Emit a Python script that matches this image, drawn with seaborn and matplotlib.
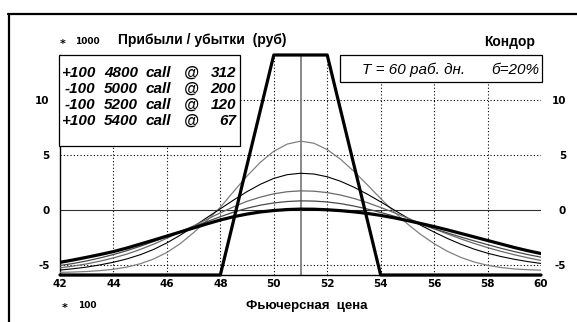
import matplotlib
matplotlib.use("Agg")
import matplotlib.pyplot as plt
import seaborn as sns
import pandas as pd
from matplotlib.patches import Rectangle
from matplotlib.lines import Line2D

# ---------------- data ----------------
price = [42, 42.5, 43, 43.5, 44, 44.5, 45, 45.5, 46, 46.5, 47, 47.5, 48, 48.5,
         49, 49.5, 50, 50.5, 51, 51.5, 52, 52.5, 53, 53.5, 54, 54.5, 55, 55.5,
         56, 56.5, 57, 57.5, 58, 58.5, 59, 59.5, 60]

pnl_12d = [-5.66, -5.63, -5.58, -5.50, -5.38, -5.18, -4.88, -4.45, -3.85, -3.05,
           -2.05, -0.95, 0.25, 1.70, 3.10, 4.35, 5.35, 6.00, 6.27, 6.08, 5.50,
           4.62, 3.52, 2.30, 1.05, -0.15, -1.25, -2.22, -3.05, -3.75, -4.30,
           -4.72, -5.02, -5.22, -5.35, -5.42, -5.46]
pnl_24d = [-5.45, -5.33, -5.18, -4.98, -4.74, -4.44, -4.06, -3.58, -2.98, -2.28,
           -1.50, -0.68, 0.12, 0.92, 1.68, 2.35, 2.88, 3.22, 3.35, 3.28, 3.03,
           2.62, 2.08, 1.45, 0.75, 0.02, -0.70, -1.38, -2.00, -2.58, -3.10,
           -3.55, -3.92, -4.22, -4.47, -4.68, -4.85]
pnl_36d = [-5.25, -5.09, -4.89, -4.64, -4.35, -4.00, -3.58, -3.10, -2.56, -2.00,
           -1.43, -0.84, -0.25, 0.30, 0.80, 1.18, 1.48, 1.67, 1.75, 1.72, 1.59,
           1.37, 1.06, 0.68, 0.24, -0.23, -0.72, -1.21, -1.70, -2.17, -2.62,
           -3.03, -3.41, -3.75, -4.06, -4.33, -4.58]
pnl_48d = [-5.04, -4.85, -4.62, -4.35, -4.04, -3.69, -3.29, -2.86, -2.41, -1.95,
           -1.50, -1.05, -0.60, -0.18, 0.17, 0.45, 0.65, 0.78, 0.84, 0.82, 0.74,
           0.59, 0.37, 0.10, -0.21, -0.55, -0.92, -1.30, -1.69, -2.07, -2.45,
           -2.80, -3.14, -3.47, -3.77, -4.04, -4.28]
pnl_60d = [-4.75, -4.53, -4.29, -4.04, -3.77, -3.45, -3.09, -2.73, -2.36, -1.99,
           -1.62, -1.25, -0.90, -0.60, -0.36, -0.17, -0.04, 0.05, 0.09, 0.08, 0.03,
           -0.05, -0.16, -0.30, -0.48, -0.70, -0.95, -1.22, -1.50, -1.80, -2.12,
           -2.44, -2.76, -3.08, -3.40, -3.69, -3.95]

expiry_x = [42, 48, 50, 52, 54, 60]
expiry_pnl = [-5.9, -5.9, 14.1, 14.1, -5.9, -5.9]

current_price = 51
x_ticks = [42, 44, 46, 48, 50, 52, 54, 56, 58, 60]
y_ticks = [-5, 0, 5, 10]
x_grid = [44, 46, 48, 50, 52, 54, 56, 58]
y_grid = [-5, 5, 10]

leg_qty = ["+100", "-100", "-100", "+100"]
leg_strike = ["4800", "5000", "5200", "5400"]
leg_type = ["call", "call", "call", "call"]
leg_price = ["312", "200", "120", "67"]

# ---------------- style ----------------
sns.set_theme(style="white")
plt.rcParams['font.family'] = ['DejaVu Sans']
plt.rcParams['axes.unicode_minus'] = False
plt.rcParams['text.color'] = 'black'
plt.rcParams['xtick.color'] = 'black'
plt.rcParams['ytick.color'] = 'black'
plt.rcParams['axes.labelcolor'] = 'black'

W, H = 577, 322
fig = plt.figure(figsize=(W / 100, H / 100), dpi=100)
fig.patch.set_facecolor('white')

def fx(px):
    return px / W

def fy(py):
    return 1 - py / H

ax = fig.add_axes([fx(60), fy(275), 481 / W, 220 / H])
ax.set_facecolor('white')

# grid
for gx in x_grid:
    ax.axvline(gx, color='black', lw=0.8, ls=(0, (1, 2)), zorder=1)
for gy in y_grid:
    ax.axhline(gy, color='black', lw=0.8, ls=(0, (1, 2)), zorder=1)
ax.axhline(0, color='#303030', lw=0.8, zorder=1.5)
ax.axvline(current_price, color='#808080', lw=1.3, zorder=1.5)

# curves
df = pd.DataFrame({"price": price, "12": pnl_12d, "24": pnl_24d,
                   "36": pnl_36d, "48": pnl_48d, "60": pnl_60d})
styles = {"12": ('#808080', 0.9), "24": ('#000000', 0.8), "36": ('#6a6a6a', 0.9),
          "48": ('#4a4a4a', 0.9), "60": ('#000000', 2.3)}
for key, (col, lw) in styles.items():
    sns.lineplot(data=df, x="price", y=key, ax=ax, color=col, lw=lw,
                 estimator=None, sort=False, zorder=3)

exp_df = pd.DataFrame({"x": expiry_x, "y": expiry_pnl})
sns.lineplot(data=exp_df, x="x", y="y", ax=ax, color='black', lw=2.3,
             estimator=None, sort=False, zorder=4, clip_on=False)

ax.set_xlim(42, 60)
ax.set_ylim(-5.9, 14.1)
ax.set_xlabel("")
ax.set_ylabel("")
ax.set_xticks(x_ticks)
ax.set_yticks(y_ticks)
ax.set_xticklabels([str(v) for v in x_ticks])
ax.set_yticklabels([str(v) for v in y_ticks])
ax.tick_params(axis='x', length=0, pad=3, labelsize=7.5, labelcolor='black')
ax.tick_params(axis='y', length=0, pad=7.5, labelsize=7.5, labelcolor='black')
for lab in ax.get_xticklabels() + ax.get_yticklabels():
    lab.set_fontweight('bold')
for s in ['top', 'right']:
    ax.spines[s].set_visible(False)
for s in ['left', 'bottom']:
    ax.spines[s].set_visible(True)
    ax.spines[s].set_color('black')
    ax.spines[s].set_linewidth(1.0)

ax2 = ax.twinx()
ax2.set_ylim(-5.9, 14.1)
ax2.set_yticks(y_ticks)
ax2.set_yticklabels([str(v) for v in y_ticks])
ax2.tick_params(axis='y', length=0, pad=18, labelsize=7.5, labelcolor='black')
for lab in ax2.get_yticklabels():
    lab.set_fontweight('bold')
    lab.set_ha('right')
for s in ax2.spines.values():
    s.set_visible(False)
ax2.grid(False)

# outer frame
fig.add_artist(Line2D([fx(8), 1.0], [fy(14), fy(14)], color='black', lw=1.6,
                      transform=fig.transFigure))
fig.add_artist(Line2D([fx(9), fx(9)], [fy(14), 0.0], color='black', lw=1.6,
                      transform=fig.transFigure))

# boxes
fig.add_artist(Rectangle((fx(59), fy(146)), 181 / W, 91 / H, transform=fig.transFigure,
                         facecolor='white', edgecolor='black', lw=0.9, zorder=5))
fig.add_artist(Rectangle((fx(340), fy(82)), 202 / W, 27 / H, transform=fig.transFigure,
                         facecolor='white', edgecolor='black', lw=0.9, zorder=5))

ARIAL = ['Liberation Sans', 'DejaVu Sans']
bi = dict(fontsize=11, style='italic', fontweight='bold', color='black', zorder=6,
          va='baseline', family=ARIAL)
for i in range(4):
    yb = fy(77 + i * 16)
    fig.text(fx(95), yb, leg_qty[i], ha='right', **bi)
    fig.text(fx(138), yb, leg_strike[i], ha='right', **bi)
    fig.text(fx(146), yb, leg_type[i], ha='left', **bi)
    fig.text(fx(184), yb, "@", ha='left', **bi)
    fig.text(fx(236), yb, leg_price[i], ha='right', **bi)

it = dict(fontsize=11, style='italic', color='black', zorder=6, va='baseline',
          family=ARIAL)
fig.text(fx(362), fy(74), "T = 60 раб. дн.", ha='left', **it)
fig.text(fx(539), fy(74), "б=20%", ha='right', **it)

# header / footer texts
fig.text(fx(60), fy(47), "*", fontsize=8, fontweight='bold', ha='left', va='baseline')
fig.text(fx(75), fy(44), "1000", fontsize=6.5, fontweight='bold', ha='left', va='baseline')
fig.text(fx(118), fy(44), "Прибыли / убытки  (руб)", fontsize=10, fontweight='bold',
         ha='left', va='baseline', family=ARIAL)
fig.text(fx(535), fy(46), "Кондор", fontsize=10, fontweight='bold', ha='right',
         va='baseline', family=ARIAL)
fig.text(fx(62), fy(311), "*", fontsize=8, fontweight='bold', ha='left', va='baseline')
fig.text(fx(78), fy(308), "100", fontsize=6.5, fontweight='bold', ha='left', va='baseline')
fig.text(fx(307), fy(309), "Фьючерсная  цена", fontsize=9.5, fontweight='bold',
         ha='center', va='baseline', family=ARIAL)

fig.savefig("out.png", dpi=100, facecolor='white')
